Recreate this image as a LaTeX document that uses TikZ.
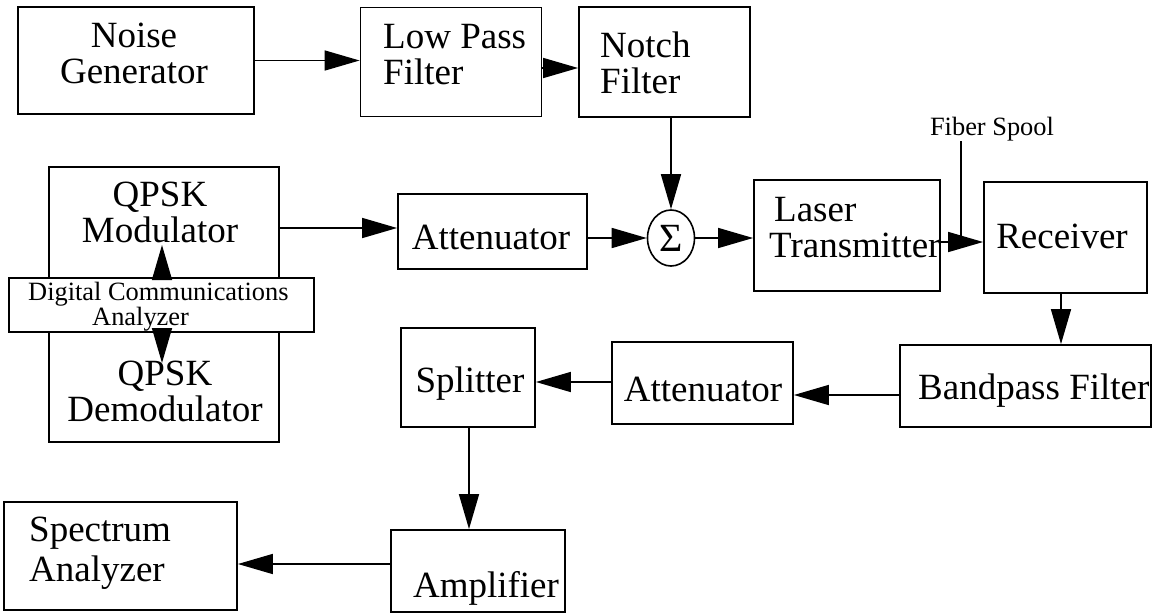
\documentclass[tikz,border=0pt]{standalone}
\usepackage{fontspec}
\setmainfont{Liberation Serif}
\usetikzlibrary{arrows.meta,shapes.geometric}
\begin{document}
\begin{tikzpicture}[x=1pt,y=-1pt,
  box/.style={draw, line width=1.8pt, rectangle, inner sep=0pt},
  big/.style={font=\fontsize{37}{36}\selectfont, inner sep=0pt},
  small/.style={font=\fontsize{26.4}{25}\selectfont, inner sep=0pt},
  arr/.style={line width=1.6pt, -{Triangle[length=35pt,width=20pt]}},
  ln/.style={line width=1.6pt}]
\useasboundingbox (0,0) rectangle (1152,614);

% ---- top row ----
\node[box, minimum width=236pt, minimum height=107pt] (ng) at (136,60.5) {};
\node[big, align=center] (ngT) at (134,53) {Noise\\Generator};
\node[box, minimum width=181pt, minimum height=109pt] (lpf) at (451,62) {};
\node[big, align=left, anchor=west] (lpfT) at (383,55) {Low Pass\\Filter};
\node[box, minimum width=171pt, minimum height=110pt] (notch) at (664.5,62) {};
\node[big, align=left, anchor=west] (notchT) at (600,63) {Notch\\Filter};

% ---- QPSK / DCA ----
\node[box, minimum width=230pt, minimum height=123pt] (mod) at (164,228.5) {};
\node[box, minimum width=230pt, minimum height=122pt] (demod) at (164,381) {};
\node[big, align=center] (modT) at (160,212) {QPSK\\Modulator};
\node[big, align=center] (demodT) at (165,391) {QPSK\\Demodulator};
\node[box, fill=white, minimum width=305pt, minimum height=54pt] (dca) at (161.5,305) {};
\node[small, align=left, anchor=west] (dcaT) at (28,307) {Digital Communications\\\hspace*{64pt}Analyzer};
\coordinate (dcaUp) at (162,245);
\coordinate (dcaDn) at (162,363);

% ---- middle row ----
\node[box, minimum width=189pt, minimum height=75pt] (att1) at (492.5,231.5) {};
\node[big] (att1T) at (491,237) {Attenuator};
\node[draw, line width=1.6pt, ellipse, inner sep=0pt, minimum width=47pt, minimum height=56pt,
      font=\fontsize{40}{40}\selectfont] (sig) at (671,238) {Σ};
\node[box, minimum width=186pt, minimum height=111pt] (laser) at (847,235.5) {};
\node[big, align=left, anchor=west] (laserT) at (769,228) {\hspace*{5pt}Laser\\Transmitter};
\node[box, minimum width=163pt, minimum height=111pt] (rx) at (1065.5,237.5) {};
\node[big] (rxT) at (1062,236) {Receiver};
\node[small] (spool) at (992,129) {Fiber Spool};
\coordinate (spTop) at (961,141);

% ---- lower rows ----
\node[box, minimum width=251pt, minimum height=82pt] (bpf) at (1025.5,386) {};
\node[big, anchor=west] (bpfT) at (918,391) {Bandpass Filter};
\node[box, minimum width=181pt, minimum height=82pt] (att2) at (702.5,383) {};
\node[big] (att2T) at (703,389.5) {Attenuator};
\node[box, minimum width=134pt, minimum height=99pt] (spl) at (468,377.5) {};
\node[big] (splT) at (470,383.5) {Splitter};
\node[box, minimum width=174pt, minimum height=82pt] (amp) at (478,571) {};
\node[big] (ampT) at (486,588) {Amplifier};
\node[box, minimum width=233pt, minimum height=108pt] (spec) at (120.5,556) {};
\node[inner sep=0pt, font=\fontsize{37}{40}\selectfont, align=left, anchor=west] (specT) at (29,553) {Spectrum\\Analyzer};

% ---- connectors ----
\draw[arr] (ng.east) -- (ng.east -| lpf.west);
\draw[arr] ([yshift=-6pt]lpf.east) -- ([yshift=-6pt]lpf.east -| notch.west);
\draw[arr] (notch.south -| sig.north) -- (sig.north);
\draw[arr] (mod.east |- 0,228) -- (att1.west |- 0,228);
\draw[arr] (dca.north -| dcaUp) -- (dcaUp);
\draw[arr] (dca.south -| dcaDn) -- (dcaDn);
\draw[arr] (att1.east |- sig.west) -- (sig.west);
\draw[arr] (sig.east) -- (sig.east -| laser.west);
\draw[arr] (laser.east |- 0,242) -- (rx.west |- 0,242);
\draw[ln] (spTop) -- (spTop |- 0,242);
\draw[arr] (rx.south -| 1061,0) -- (bpf.north -| 1061,0);
\draw[arr] (bpf.west |- 0,395) -- (att2.east |- 0,395);
\draw[arr] (att2.west |- 0,382) -- (spl.east |- 0,382);
\draw[arr] (spl.south -| 469,0) -- (amp.north -| 469,0);
\draw[arr] (amp.west |- 0,564) -- (spec.east |- 0,564);
\end{tikzpicture}
\end{document}
